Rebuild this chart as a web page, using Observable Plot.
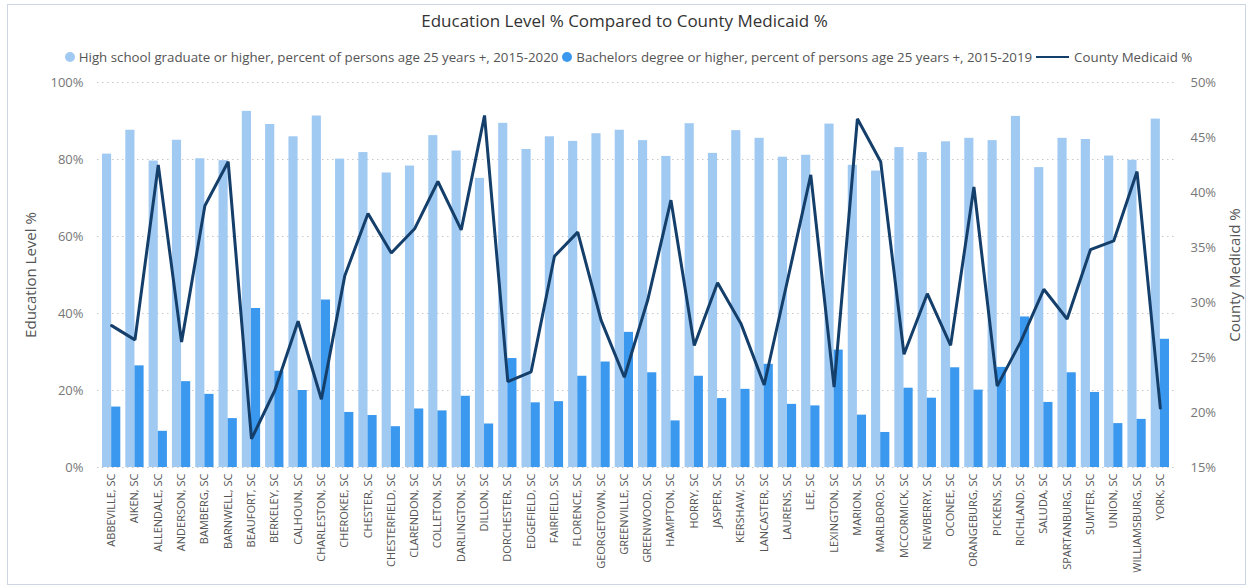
<!DOCTYPE html>
<html>
<head>
<meta charset="utf-8">
<script src="https://cdn.jsdelivr.net/npm/d3@7"></script>
<script src="https://cdn.jsdelivr.net/npm/@observablehq/plot@0.6"></script>
<style>
  html, body { margin: 0; padding: 0; background: #fff; }
  body { width: 1249px; height: 586px; position: relative; overflow: hidden; font-family: "Open Sans", "Noto Sans", sans-serif; }
  #frame { position: absolute; left: 7px; top: 4px; width: 1239px; height: 581px; border: 1px solid #cdd6e2; box-sizing: border-box; }
  #title { position: absolute; top: 9px; left: 0; width: 1249px; text-align: center; font-size: 17px; color: #333; }
  #legend { position: absolute; top: 47px; left: 4px; width: 1249px; height: 20px; display: flex; justify-content: center; align-items: center; font-size: 13.3px; color: #555; white-space: nowrap; }
  #legend .item { display: flex; align-items: center; margin: 0 2px; }
  #legend .dot { width: 10px; height: 10px; border-radius: 50%; display: block; margin-right: 4px; }
  #legend .ln { width: 33px; height: 2.5px; display: block; margin-right: 5px; }
  .ytitle { position: absolute; font-size: 15px; color: #555; white-space: nowrap; transform-origin: center; }
  #chart { position: absolute; left: 0; top: 70px; }
</style>
</head>
<body>
<div id="frame"></div>
<div id="title"></div>
<div id="legend"></div>
<div id="ytitleLeft" class="ytitle"></div>
<div id="ytitleRight" class="ytitle"></div>
<div id="chart"></div>
<script>
// South Carolina counties
const counties = [
  "ABBEVILLE, SC", "AIKEN, SC", "ALLENDALE, SC", "ANDERSON, SC", "BAMBERG, SC", "BARNWELL, SC",
  "BEAUFORT, SC", "BERKELEY, SC", "CALHOUN, SC", "CHARLESTON, SC", "CHEROKEE, SC", "CHESTER, SC",
  "CHESTERFIELD, SC", "CLARENDON, SC", "COLLETON, SC", "DARLINGTON, SC", "DILLON, SC", "DORCHESTER, SC",
  "EDGEFIELD, SC", "FAIRFIELD, SC", "FLORENCE, SC", "GEORGETOWN, SC", "GREENVILLE, SC", "GREENWOOD, SC",
  "HAMPTON, SC", "HORRY, SC", "JASPER, SC", "KERSHAW, SC", "LANCASTER, SC", "LAURENS, SC",
  "LEE, SC", "LEXINGTON, SC", "MARION, SC", "MARLBORO, SC", "MCCORMICK, SC", "NEWBERRY, SC",
  "OCONEE, SC", "ORANGEBURG, SC", "PICKENS, SC", "RICHLAND, SC", "SALUDA, SC", "SPARTANBURG, SC",
  "SUMTER, SC", "UNION, SC", "WILLIAMSBURG, SC", "YORK, SC"
];

// High school graduate or higher, % of persons age 25+, 2015-2020
const highSchool = [
  81.4, 87.6, 79.6, 85.0, 80.2, 79.7, 92.5, 89.1, 85.9, 91.3,
  80.1, 81.8, 76.5, 78.3, 86.2, 82.2, 75.1, 89.4, 82.6, 85.9,
  84.7, 86.7, 87.6, 84.9, 80.8, 89.3, 81.6, 87.5, 85.5, 80.6,
  81.1, 89.2, 78.5, 77.0, 83.1, 81.8, 84.6, 85.5, 84.9, 91.2,
  77.9, 85.5, 85.2, 80.9, 79.8, 90.5
];

// Bachelors degree or higher, % of persons age 25+, 2015-2019
const bachelors = [
  15.7, 26.4, 9.4, 22.3, 19.0, 12.7, 41.3, 25.0, 20.0, 43.5,
  14.3, 13.5, 10.6, 15.2, 14.7, 18.5, 11.3, 28.3, 16.8, 17.1,
  23.7, 27.4, 35.1, 24.6, 12.1, 23.7, 17.9, 20.3, 26.8, 16.4,
  16.0, 30.5, 13.6, 9.1, 20.6, 18.0, 25.9, 20.1, 26.0, 39.1,
  16.9, 24.6, 19.5, 11.4, 12.5, 33.3
];

// County Medicaid %
const medicaid = [
  27.9, 26.6, 42.5, 26.4, 38.8, 42.8, 17.6, 22.0, 28.3, 21.2,
  32.4, 38.1, 34.5, 36.7, 41.0, 36.6, 47.0, 22.8, 23.7, 34.2,
  36.4, 28.4, 23.2, 30.2, 39.3, 26.1, 31.8, 28.1, 22.5, 32.0,
  41.6, 22.3, 46.7, 42.8, 25.3, 30.8, 26.1, 40.5, 22.4, 26.4,
  31.2, 28.5, 34.8, 35.6, 41.9, 20.4
];

const eduTicks = [0, 20, 40, 60, 80, 100];
const medTicks = [15, 20, 25, 30, 35, 40, 45, 50];

const seriesNames = [
  "High school graduate or higher, percent of persons age 25 years +, 2015-2020",
  "Bachelors degree or higher, percent of persons age 25 years +, 2015-2019",
  "County Medicaid %"
];
const colors = ["#a1caf3", "#3a98ee", "#153f6b"];

// The medicaid axis (15%–50%) shares the vertical extent of the education axis (0%–100%)
const medDomain = [medTicks[0], medTicks[medTicks.length - 1]];
const toEdu = m => (m - medDomain[0]) / (medDomain[1] - medDomain[0]) * 100;
const fromEdu = e => medDomain[0] + e / 100 * (medDomain[1] - medDomain[0]);

const rows = counties.map((county, i) => ({
  county, hs: highSchool[i], ba: bachelors[i], med: medicaid[i]
}));

const width = 1249, height = 516;
const marginLeft = 97, marginRight = 75, marginTop = 12, marginBottom = 119;
const padding = 0.215;
const step = (width - marginLeft - marginRight) / (counties.length + padding);
const half = step * (1 - padding) / 2;

const font = '"Open Sans", "Noto Sans", sans-serif';

document.getElementById("title").textContent = "Education Level % Compared to County Medicaid %";

const legend = document.getElementById("legend");
seriesNames.forEach((name, i) => {
  const item = document.createElement("span");
  item.className = "item";
  const sw = document.createElement("span");
  sw.className = i < 2 ? "dot" : "ln";
  sw.style.background = colors[i];
  item.appendChild(sw);
  const label = document.createElement("span");
  label.textContent = name;
  item.appendChild(label);
  legend.appendChild(item);
});

const chart = Plot.plot({
  width, height, marginLeft, marginRight, marginTop, marginBottom,
  style: { fontFamily: font, background: "transparent", overflow: "visible" },
  x: { domain: counties, padding, round: false, label: null },
  y: { domain: [0, 100], label: null },
  marks: [
    Plot.gridY(eduTicks, { stroke: "#c8c8c8", strokeOpacity: 1, strokeDasharray: "1.5,3.5" }),
    Plot.barY(rows, { x: "county", y: "hs", fill: colors[0], insetLeft: 0, insetRight: half }),
    Plot.barY(rows, { x: "county", y: "ba", fill: colors[1], insetLeft: half, insetRight: 0 }),
    Plot.line(rows, { x: "county", y: d => toEdu(d.med), stroke: colors[2], strokeWidth: 3, strokeLinejoin: "miter" }),
    Plot.axisY(eduTicks, { anchor: "left", tickSize: 0, tickPadding: 14, fontSize: 13, fill: "#777", tickFormat: d => d + "%", label: null }),
    Plot.axisY(medTicks.map(toEdu), { anchor: "right", tickSize: 0, tickPadding: 16, fontSize: 13, fill: "#777", tickFormat: d => Math.round(fromEdu(d)) + "%", label: null }),
    Plot.axisX({ tickRotate: -90, tickSize: 0, tickPadding: 6, fontSize: 11, fill: "#555", label: null })
  ]
});
document.getElementById("chart").appendChild(chart);

// Vertical axis titles
const plotMid = 70 + marginTop + (height - marginTop - marginBottom) / 2;
const lt = document.getElementById("ytitleLeft");
lt.textContent = "Education Level %";
const rt = document.getElementById("ytitleRight");
rt.textContent = "County Medicaid %";
for (const [el, cx] of [[lt, 30], [rt, 1234]]) {
  const w = el.getBoundingClientRect().width, h = el.getBoundingClientRect().height;
  el.style.left = (cx - w / 2) + "px";
  el.style.top = (plotMid - h / 2) + "px";
  el.style.transform = "rotate(-90deg)";
}
</script>
</body>
</html>
